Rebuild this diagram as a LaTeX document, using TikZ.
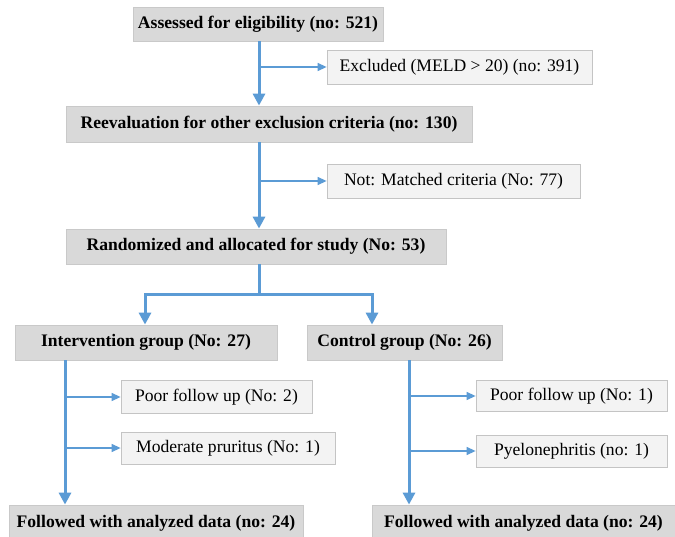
\documentclass[tikz,border=0pt]{standalone}
\usepackage{fontspec}
\setmainfont{Liberation Serif}
\usetikzlibrary{arrows.meta}
\definecolor{arrowblue}{HTML}{5B9BD5}
\definecolor{darkfill}{HTML}{D9D9D9}
\definecolor{darkline}{HTML}{C9C9C9}
\definecolor{lightfill}{HTML}{F3F3F3}
\definecolor{lightline}{HTML}{C4C4C4}
\begin{document}
\begin{tikzpicture}[x=1pt,y=-1pt,
 mainbox/.style={draw=darkline, fill=darkfill, line width=0.8pt, inner sep=0pt, font=\fontsize{17.6}{20}\selectfont\bfseries},
 sidebox/.style={draw=lightline, fill=lightfill, line width=0.8pt, inner sep=0pt, font=\fontsize{17.6}{20}\selectfont},
 mainarrow/.style={draw=arrowblue, line width=3pt, -{Triangle[width=12pt,length=12pt]}},
 mainline/.style={draw=arrowblue, line width=3pt},
 sidearrow/.style={draw=arrowblue, line width=1.3pt, -{Triangle[width=8pt,length=9pt]}},
]
\useasboundingbox (0,0) rectangle (675,537);
\fill[white] (0,0) rectangle (675,537);

\node[mainbox, minimum width=250pt, minimum height=34pt] (b1) at (258,24) {Assessed for eligibility (no: 521)};
\node[sidebox, minimum width=265pt, minimum height=34pt] (exc) at (459.5,67) {Excluded (MELD > 20) (no: 391)};
\node[mainbox, minimum width=406pt, minimum height=36pt] (b2) at (269,124) {Reevaluation for other exclusion criteria (no: 130)};
\node[sidebox, minimum width=253pt, minimum height=34pt] (nm) at (453.5,181) {Not: Matched criteria (No: 77)};
\node[mainbox, minimum width=380pt, minimum height=35pt] (b3) at (256,246.5) {Randomized and allocated for study (No: 53)};
\node[mainbox, minimum width=262pt, minimum height=35pt] (ig) at (146,342.5) {Intervention group (No: 27)};
\node[mainbox, minimum width=195pt, minimum height=35pt] (cg) at (404.5,342.5) {Control group (No: 26)};
\node[sidebox, minimum width=191pt, minimum height=33pt] (pf1) at (216.5,397) {Poor follow up (No: 2)};
\node[sidebox, minimum width=214pt, minimum height=32pt] (mp) at (228,448) {Moderate pruritus (No: 1)};
\node[sidebox, minimum width=191pt, minimum height=31pt] (pf2) at (571.5,396) {Poor follow up (No: 1)};
\node[sidebox, minimum width=191pt, minimum height=32pt] (py) at (571.5,451) {Pyelonephritis (no: 1)};
\node[mainbox, minimum width=294pt, minimum height=36pt] (f1) at (156,523) {Followed with analyzed data (no: 24)};
\node[mainbox, minimum width=303pt, minimum height=36pt] (f2) at (523.5,523) {Followed with analyzed data (no: 24)};

\coordinate (trunk) at (259,0);
\coordinate (split) at (259,295);
\coordinate (sL) at (145,295);
\coordinate (sR) at (372,295);
\coordinate (ileg) at (65,0);
\coordinate (cleg) at (409,0);

\draw[mainarrow] (b1.south -| trunk) -- (b2.north -| trunk);
\draw[sidearrow] (trunk |- exc.west) -- (exc.west);
\draw[mainarrow] (b2.south -| trunk) -- (b3.north -| trunk);
\draw[sidearrow] (trunk |- nm.west) -- (nm.west);
\draw[mainline] (b3.south -| trunk) -- (split);
\draw[mainarrow] (split) -- (sL) -- (sL |- ig.north);
\draw[mainarrow] (split) -- (sR) -- (sR |- cg.north);
\draw[mainarrow] (ig.south -| ileg) -- (f1.north -| ileg);
\draw[sidearrow] (ileg |- pf1.west) -- (pf1.west);
\draw[sidearrow] (ileg |- mp.west) -- (mp.west);
\draw[mainarrow] (cg.south -| cleg) -- (f2.north -| cleg);
\draw[sidearrow] (cleg |- pf2.west) -- (pf2.west);
\draw[sidearrow] (cleg |- py.west) -- (py.west);
\end{tikzpicture}
\end{document}
